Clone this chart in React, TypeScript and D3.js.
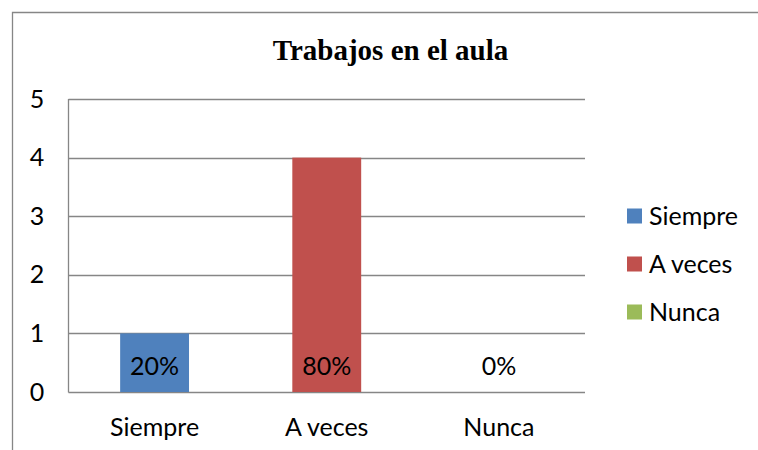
import React from "react";
import * as d3 from "d3";

const categories = ["Siempre", "A veces", "Nunca"];
const values = [1, 4, 0];
const labels = ["20%", "80%", "0%"];
const colors = ["#4F81BD", "#C0504D", "#9BBB59"];
const yTicks = [0, 1, 2, 3, 4, 5];
const title = "Trabajos en el aula";

export default function App() {
  const W = 758, H = 450;
  const plot = { left: 68.5, right: 585, top: 99, bottom: 392 };
  const x = d3.scaleBand<string>().domain(categories).range([plot.left, plot.right]).paddingInner(0.6).paddingOuter(0.3);
  const y = d3.scaleLinear().domain([0, 5]).range([plot.bottom, plot.top]);
  const font = "Lato, 'Open Sans', sans-serif";
  const fs = 25;
  const grid = "#868686";
  return (
    <svg width={W} height={H} style={{ position: "absolute", left: 0, top: 0, background: "#fff" }}>
      <rect x={0} y={0} width={W} height={H} fill="#fff" />
      <path d={`M12.5,${H} V12.5 H${W}`} fill="none" stroke={grid} strokeWidth={1.3} />
      <text x={390.5} y={60} textAnchor="middle" fontFamily="'Liberation Serif', 'Times New Roman', serif" fontWeight="bold" fontSize={29}>{title}</text>
      {yTicks.map((t) => (
        <g key={t}>
          <line x1={plot.left} x2={plot.right} y1={Math.round(y(t)) + 0.5} y2={Math.round(y(t)) + 0.5} stroke={grid} strokeWidth={1.3} />
          <text x={37} y={y(t) + 8.5} textAnchor="middle" fontFamily={font} fontSize={fs} fill="#000">{t}</text>
        </g>
      ))}
      <line x1={plot.left} x2={plot.left} y1={plot.top} y2={plot.bottom + 0.5} stroke={grid} strokeWidth={1.3} />
      {categories.map((c, i) => (
        <g key={c}>
          <rect x={x(c)!} y={y(values[i])} width={x.bandwidth()} height={y(0) - y(values[i])} fill={colors[i]} />
          <text x={x(c)! + x.bandwidth() / 2} y={y(0) - 17} textAnchor="middle" fontFamily={font} fontSize={fs} fill="#000">{labels[i]}</text>
          <text x={x(c)! + x.bandwidth() / 2} y={436} textAnchor="middle" fontFamily={font} fontSize={fs} fill="#000">{c}</text>
        </g>
      ))}
      {categories.map((c, i) => (
        <g key={"leg" + c} transform={`translate(627, ${216 + i * 48})`}>
          <rect x={0} y={-7.5} width={15} height={15} fill={colors[i]} />
          <text x={22} y={8.5} fontFamily={font} fontSize={fs} fill="#000">{c}</text>
        </g>
      ))}
    </svg>
  );
}
